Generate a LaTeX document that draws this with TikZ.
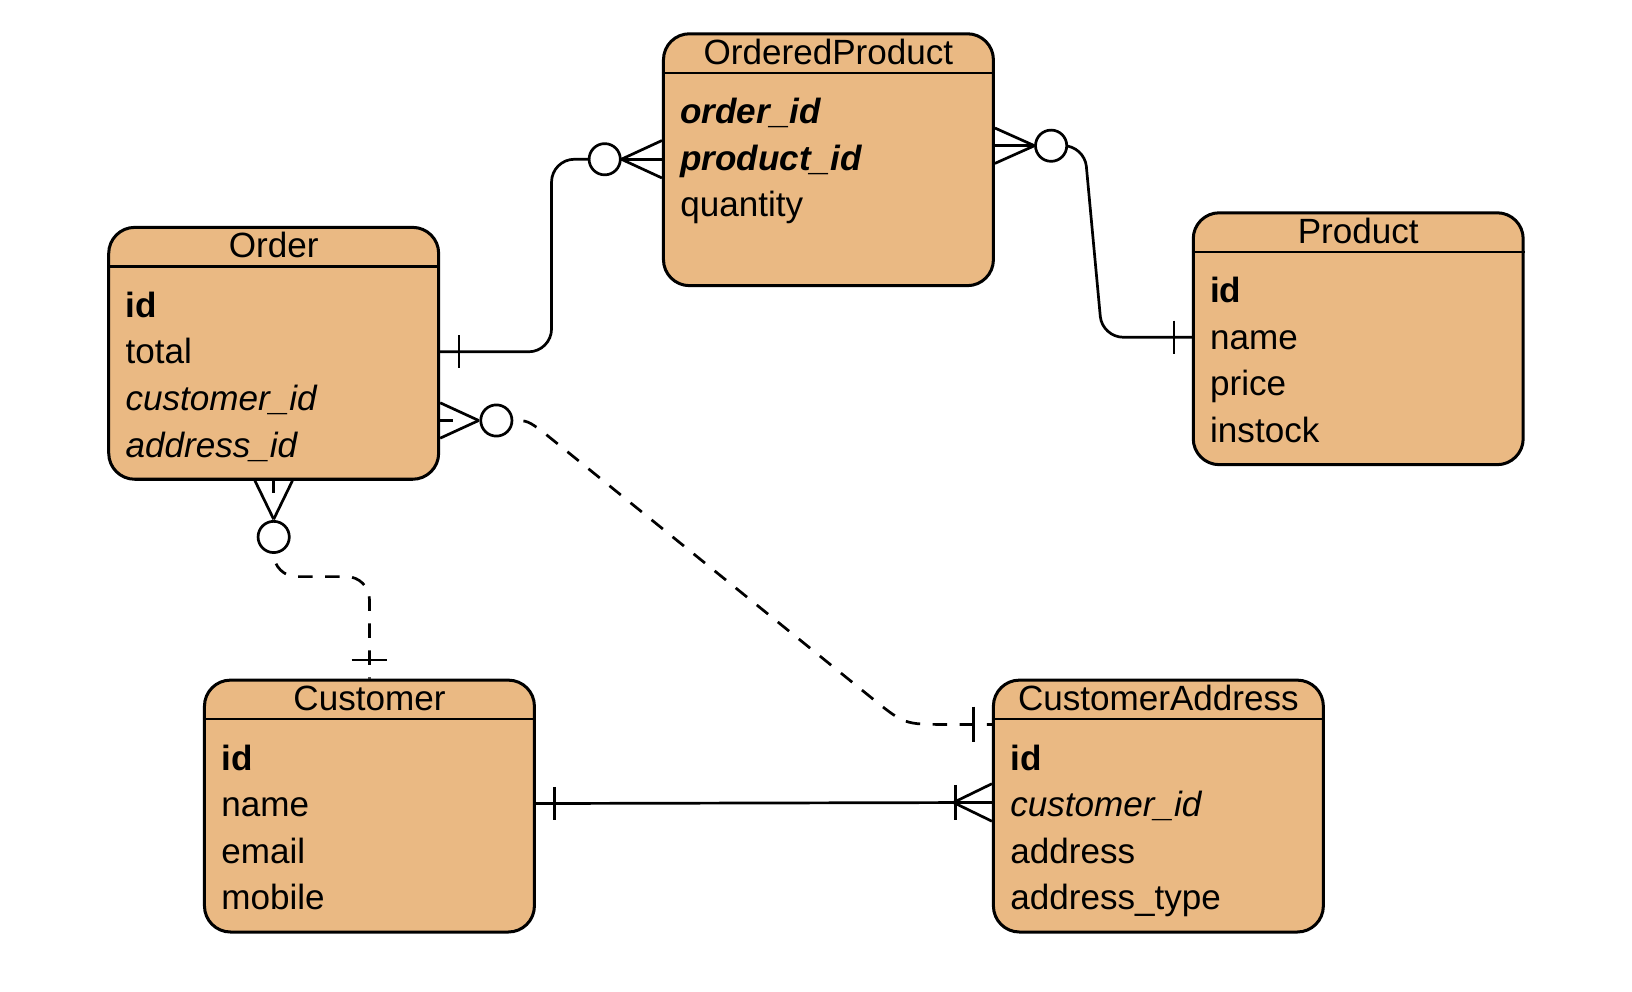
\documentclass[tikz,border=0pt]{standalone}
\usepackage{fontspec}
\setmainfont{Liberation Sans}
\usetikzlibrary{calc}
\definecolor{entfill}{RGB}{234,185,131}
\tikzset{
  entbox/.style={draw=black, line width=2.9pt, fill=entfill, rounded corners=25pt,
    minimum width=317pt, minimum height=242pt, inner sep=0pt, anchor=north west},
  hdr/.style={line width=2.2pt},
  ttl/.style={anchor=base, inner sep=0pt, font=\fontsize{33.7}{40}\selectfont},
  row/.style={anchor=base west, inner sep=0pt, font=\fontsize{33.7}{40}\selectfont},
  conn/.style={line width=2.6pt, draw=black},
  dconn/.style={conn, dash pattern=on 14pt off 12pt},
  tick/.style={conn, dash pattern=on 12pt off 60pt},
  ring/.style={conn, fill=white},
}
\newcommand\myentity[4]{% name, x, y, title
  \node[entbox] (#1) at (#2,#3) {};
  \draw[hdr] ($(#1.north west)+(0,39)$) -- ($(#1.north east)+(0,39)$);
  \node[ttl] (#1-t) at ($(#1.north)+(0,30.5)$) {#4};
}
\newcommand\myrow[3]{% entity, index, text
  \node[row] (#1-r#2) at ($(#1.north west)+(17.5,{88+44.7*(#2-1)})$) {#3};
}
\begin{document}
\begin{tikzpicture}[x=1pt,y=-1pt]
\useasboundingbox (0,0) rectangle (1568,953);

% entities
\myentity{op}{636}{31}{OrderedProduct}
\myrow{op}{1}{\textbf{\textit{order\_id}}}
\myrow{op}{2}{\textbf{\textit{product\_id}}}
\myrow{op}{3}{quantity}

\myentity{order}{103}{217}{Order}
\myrow{order}{1}{\textbf{id}}
\myrow{order}{2}{total}
\myrow{order}{3}{\textit{customer\_id}}
\myrow{order}{4}{\textit{address\_id}}

\myentity{prod}{1145}{203}{Product}
\myrow{prod}{1}{\textbf{id}}
\myrow{prod}{2}{name}
\myrow{prod}{3}{price}
\myrow{prod}{4}{instock}

\myentity{cust}{195}{652}{Customer}
\myrow{cust}{1}{\textbf{id}}
\myrow{cust}{2}{name}
\myrow{cust}{3}{email}
\myrow{cust}{4}{mobile}

\myentity{ca}{953}{652}{CustomerAddress}
\myrow{ca}{1}{\textbf{id}}
\myrow{ca}{2}{\textit{customer\_id}}
\myrow{ca}{3}{address}
\myrow{ca}{4}{address\_type}

% anchor coordinates
\coordinate (o1) at ($(order.north east)+(0,121)$);
\coordinate (p1) at ($(op.north west)+(0,122)$);
\coordinate (p1c) at ($(p1)+(-55,0)$);
\coordinate (q1) at ($(op.north east)+(0,109)$);
\coordinate (q1c) at ($(q1)+(54,0)$);
\coordinate (r1) at ($(prod.north west)+(0,121)$);
\coordinate (s1) at (order.south);
\coordinate (s1c) at ($(s1)+(0,54)$);
\coordinate (t1) at (cust.north);
\coordinate (u1) at ($(order.north east)+(0,187)$);
\coordinate (u1c) at ($(u1)+(54,0)$);
\coordinate (v1) at ($(ca.north west)+(0,44)$);
\coordinate (w1) at ($(cust.north east)+(0,120)$);
\coordinate (x1) at ($(ca.north west)+(0,119)$);

% 1: Order -- OrderedProduct
\draw[conn, rounded corners=22pt] (o1) -- ++(107,0) |- (p1c);
\draw[conn] ($(o1)+(18,-16)$) -- ($(o1)+(18,16)$);
\draw[conn] ($(p1)+(-39,0)$) -- ($(p1)+(0,-18)$);
\draw[conn] ($(p1)+(-39,0)$) -- (p1);
\draw[conn] ($(p1)+(-39,0)$) -- ($(p1)+(0,18)$);
\draw[ring] (p1c) circle[radius=15pt];

% 2: OrderedProduct -- Product
\draw[conn, rounded corners=20pt] (q1c) -- ($(q1c)+(32,0)$) -- ($(r1)+(-86,0)$) -- (r1);
\draw[conn] ($(r1)+(-17,-16)$) -- ($(r1)+(-17,16)$);
\draw[conn] ($(q1)+(38,0)$) -- ($(q1)+(0,-17)$);
\draw[conn] ($(q1)+(38,0)$) -- (q1);
\draw[conn] ($(q1)+(38,0)$) -- ($(q1)+(0,17)$);
\draw[ring] (q1c) circle[radius=15pt];

% 3: Order -- Customer (dashed)
\draw[dconn, rounded corners=22pt] (s1c) |- ($(t1)+(0,-98)$) -- (t1);
\draw[conn] ($(t1)+(-17,-18)$) -- ($(t1)+(17,-18)$);
\draw[conn] ($(s1)+(0,37)$) -- ($(s1)+(-18,0)$);
\draw[conn] ($(s1)+(0,37)$) -- ($(s1)+(18,0)$);
\draw[tick] (s1) -- ($(s1)+(0,37)$);
\draw[ring] (s1c) circle[radius=15pt];

% 4: Order -- CustomerAddress (dashed)
\draw[dconn] (u1c) -- ($(u1c)+(15,0)$) .. controls ($(u1c)+(30,0)$) .. ($(u1c)+(46,12)$)
  -- ($(v1)+(-115,-25)$) .. controls ($(v1)+(-84,0)$) .. ($(v1)+(-44,0)$) -- (v1);
\draw[conn] ($(v1)+(-18,-17)$) -- ($(v1)+(-18,17)$);
\draw[conn] ($(u1)+(37,0)$) -- ($(u1)+(0,-17)$);
\draw[conn] ($(u1)+(37,0)$) -- ($(u1)+(0,17)$);
\draw[tick] (u1) -- ($(u1)+(37,0)$);
\draw[ring] (u1c) circle[radius=15pt];

% 5: Customer -- CustomerAddress
\draw[conn] (w1) -- (x1);
\draw[conn] ($(w1)+(18,-16)$) -- ($(w1)+(18,16)$);
\draw[conn] ($(x1)+(-37,0)$) -- ($(x1)+(0,-18)$);
\draw[conn] ($(x1)+(-37,0)$) -- ($(x1)+(0,18)$);
\draw[conn] ($(x1)+(-35,-17)$) -- ($(x1)+(-35,17)$);

\end{tikzpicture}
\end{document}
